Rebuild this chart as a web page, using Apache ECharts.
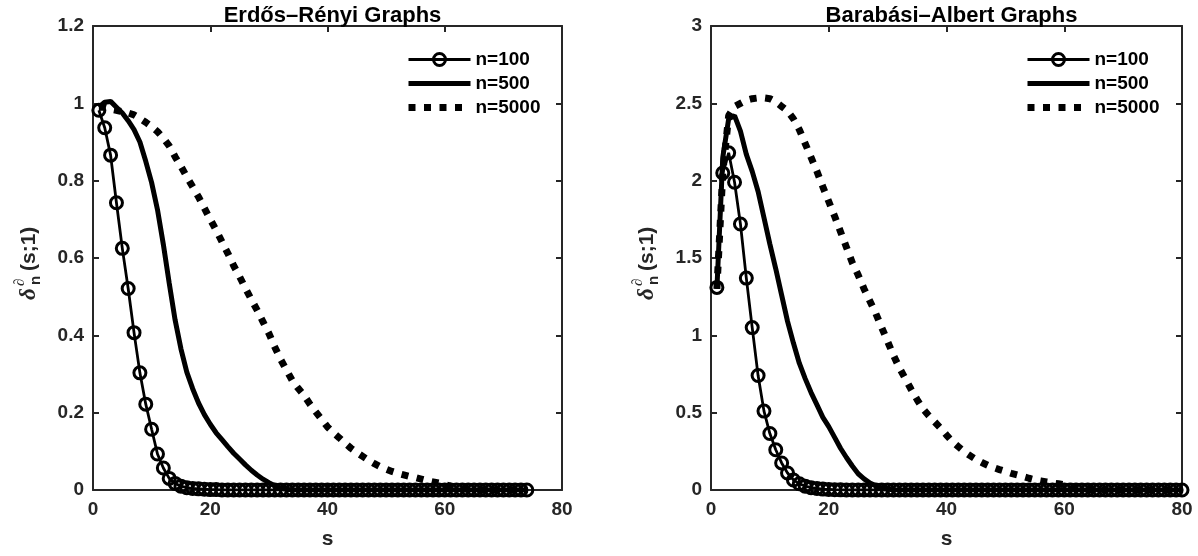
<!DOCTYPE html>
<html>
<head>
<meta charset="utf-8">
<title>delta_n(s;1)</title>
<script src="https://cdn.jsdelivr.net/npm/echarts@6/dist/echarts.min.js"></script>
<style>
    html, body { margin: 0; padding: 0; background: #fff; }
    #main { width: 1198px; height: 556px; }
</style>
</head>
<body>
<div id="main"></div>
<script>
// legend names and titles
var seriesNames = ['n=100', 'n=500', 'n=5000'];
var titles = ['Erdős–Rényi Graphs', 'Barabási–Albert Graphs'];

// tick labels
var sTicksER = [0, 20, 40, 60, 80];
var sTicksBA = [0, 20, 40, 60, 80];
var yTicksER = [0, 0.2, 0.4, 0.6, 0.8, 1, 1.2];
var yTicksBA = [0, 0.5, 1, 1.5, 2, 2.5, 3];

// Erdős–Rényi, s = 1..74
var erN100 = [0.982, 0.937, 0.866, 0.743, 0.625, 0.521, 0.407, 0.303, 0.222, 0.157,
    0.093, 0.057, 0.030, 0.017, 0.010, 0.006, 0.004, 0.003, 0.002, 0.001,
    0.001, 0, 0, 0, 0, 0, 0, 0, 0, 0,
    0, 0, 0, 0, 0, 0, 0, 0, 0, 0,
    0, 0, 0, 0, 0, 0, 0, 0, 0, 0,
    0, 0, 0, 0, 0, 0, 0, 0, 0, 0,
    0, 0, 0, 0, 0, 0, 0, 0, 0, 0,
    0, 0, 0, 0];
var erN500 = [0.99, 1.003, 1.005, 0.99, 0.975, 0.955, 0.932, 0.90, 0.85, 0.795,
    0.725, 0.635, 0.535, 0.44, 0.365, 0.305, 0.262, 0.225, 0.195, 0.17,
    0.148, 0.13, 0.112, 0.095, 0.08, 0.065, 0.051, 0.039, 0.028, 0.019,
    0.011, 0.005, 0.002, 0, 0, 0, 0, 0, 0, 0,
    0, 0, 0, 0, 0, 0, 0, 0, 0, 0,
    0, 0, 0, 0, 0, 0, 0, 0, 0, 0,
    0, 0, 0, 0, 0, 0, 0, 0, 0, 0,
    0, 0, 0, 0];
var erN5000 = [0.99, 0.99, 0.985, 0.982, 0.978, 0.975, 0.97, 0.961, 0.951, 0.94,
    0.927, 0.91, 0.89, 0.862, 0.837, 0.81, 0.784, 0.758, 0.729, 0.70,
    0.672, 0.642, 0.612, 0.58, 0.552, 0.522, 0.493, 0.465, 0.435, 0.405,
    0.37, 0.338, 0.31, 0.283, 0.263, 0.245, 0.222, 0.202, 0.183, 0.163,
    0.148, 0.135, 0.121, 0.108, 0.097, 0.087, 0.077, 0.068, 0.06, 0.054,
    0.048, 0.043, 0.039, 0.035, 0.032, 0.028, 0.024, 0.021, 0.018, 0.014,
    0.01, 0.007, 0.004, 0.002, 0.001, 0, 0, 0, 0, 0,
    0, 0, 0, 0];

// Barabási–Albert, s = 1..80
var baN100 = [1.31, 2.05, 2.18, 1.99, 1.72, 1.37, 1.05, 0.74, 0.51, 0.365,
    0.26, 0.175, 0.11, 0.065, 0.04, 0.025, 0.015, 0.01, 0.006, 0.004,
    0.002, 0.001, 0, 0, 0, 0, 0, 0, 0, 0,
    0, 0, 0, 0, 0, 0, 0, 0, 0, 0,
    0, 0, 0, 0, 0, 0, 0, 0, 0, 0,
    0, 0, 0, 0, 0, 0, 0, 0, 0, 0,
    0, 0, 0, 0, 0, 0, 0, 0, 0, 0,
    0, 0, 0, 0, 0, 0, 0, 0, 0, 0];
var baN500 = [1.3, 2.15, 2.40, 2.42, 2.32, 2.17, 2.06, 1.93, 1.76, 1.59,
    1.43, 1.26, 1.09, 0.95, 0.82, 0.72, 0.63, 0.55, 0.47, 0.41,
    0.34, 0.27, 0.21, 0.155, 0.105, 0.072, 0.045, 0.027, 0.013, 0.005,
    0.002, 0, 0, 0, 0, 0, 0, 0, 0, 0,
    0, 0, 0, 0, 0, 0, 0, 0, 0, 0,
    0, 0, 0, 0, 0, 0, 0, 0, 0, 0,
    0, 0, 0, 0, 0, 0, 0, 0, 0, 0,
    0, 0, 0, 0, 0, 0, 0, 0, 0, 0];
var baN5000 = [1.3, 2.05, 2.42, 2.48, 2.5, 2.52, 2.53, 2.535, 2.535, 2.53,
    2.51, 2.48, 2.45, 2.4, 2.33, 2.24, 2.15, 2.06, 1.96, 1.865,
    1.77, 1.67, 1.57, 1.47, 1.39, 1.30, 1.22, 1.14, 1.05, 0.96,
    0.87, 0.79, 0.72, 0.65, 0.585, 0.525, 0.48, 0.44, 0.40, 0.355,
    0.313, 0.28, 0.248, 0.222, 0.198, 0.178, 0.16, 0.145, 0.132, 0.12,
    0.108, 0.098, 0.087, 0.076, 0.066, 0.059, 0.052, 0.046, 0.04, 0.034,
    0.026, 0.018, 0.01, 0.005, 0.002, 0.001, 0, 0, 0, 0,
    0, 0, 0, 0, 0, 0, 0, 0, 0, 0];

var font = '"Liberation Sans", Arial, Helvetica, sans-serif';
var axisColor = '#262626';

// s runs from 1 upward, one point per step
function toPairs(vals) {
    return vals.map(function(v, i) {
        return [i + 1, v];
    });
}

function xAxes(grid, ticks) {
    var list = [];
    ['bottom', 'top'].forEach(function(pos) {
        list.push({
            type: 'value',
            gridIndex: grid,
            position: pos,
            min: ticks[0],
            max: ticks[ticks.length - 1],
            interval: ticks[1] - ticks[0],
            name: pos === 'bottom' ? 's' : '',
            nameLocation: 'middle',
            nameGap: 39,
            nameTextStyle: { color: axisColor, fontFamily: font, fontWeight: 'bold', fontSize: 21 },
            axisLine: { show: true, onZero: false, lineStyle: { color: axisColor, width: 2 } },
            axisTick: { show: true, inside: true, length: 6, lineStyle: { color: axisColor, width: 2 } },
            axisLabel: {
                show: pos === 'bottom',
                margin: 10,
                color: axisColor,
                fontFamily: font,
                fontWeight: 'bold',
                fontSize: 19
            },
            splitLine: { show: false }
        });
    });
    return list;
}

function yAxes(grid, ticks) {
    var list = [];
    ['left', 'right'].forEach(function(pos) {
        list.push({
            type: 'value',
            gridIndex: grid,
            position: pos,
            min: ticks[0],
            max: ticks[ticks.length - 1],
            interval: ticks[1] - ticks[0],
            axisLine: { show: true, onZero: false, lineStyle: { color: axisColor, width: 2 } },
            axisTick: { show: true, inside: true, length: 6, lineStyle: { color: axisColor, width: 2 } },
            axisLabel: {
                show: pos === 'left',
                margin: 9,
                color: axisColor,
                fontFamily: font,
                fontWeight: 'bold',
                fontSize: 19
            },
            splitLine: { show: false }
        });
    });
    return list;
}

function makeSeries(grid, n100, n500, n5000) {
    var ax = grid * 2;
    return [{
        name: seriesNames[0],
        type: 'line',
        xAxisIndex: ax,
        yAxisIndex: ax,
        data: toPairs(n100),
        symbol: 'circle',
        symbolSize: 12,
        itemStyle: { color: 'rgba(0,0,0,0)', borderColor: '#000', borderWidth: 3 },
        lineStyle: { color: '#000', width: 2.8 }
    }, {
        name: seriesNames[1],
        type: 'line',
        xAxisIndex: ax,
        yAxisIndex: ax,
        data: toPairs(n500),
        symbol: 'none',
        itemStyle: { color: '#000' },
        lineStyle: { color: '#000', width: 5 }
    }, {
        name: seriesNames[2],
        type: 'line',
        xAxisIndex: ax,
        yAxisIndex: ax,
        data: toPairs(n5000),
        symbol: 'none',
        itemStyle: { color: '#000' },
        lineStyle: { color: '#000', width: 7, type: [7, 8.5], cap: 'butt' }
    }];
}

function makeLegend(left) {
    return {
        orient: 'vertical',
        left: left,
        top: 50,
        padding: 0,
        itemWidth: 62,
        itemHeight: 15,
        itemGap: 5,
        selectedMode: false,
        textStyle: { color: '#000', fontFamily: font, fontWeight: 'bold', fontSize: 19 },
        lineStyle: { width: 'inherit' },
        itemStyle: { borderWidth: 'inherit' },
        data: [
            { name: seriesNames[0] },
            { name: seriesNames[1], itemStyle: { opacity: 0 } },
            { name: seriesNames[2], itemStyle: { opacity: 0 } }
        ]
    };
}

// rotated y label, delta with stacked super/subscript
function yLabel(x) {
    var sans = '"Liberation Sans", Arial, sans-serif';
    var serif = '"Liberation Serif", "DejaVu Serif", serif';
    return {
        type: 'group',
        x: x,
        y: 260,
        rotation: Math.PI / 2,
        children: [
            { type: 'text', x: -40, y: 0, style: { text: 'δ', font: 'italic bold 23px ' + serif, fill: axisColor, verticalAlign: 'middle' } },
            { type: 'text', x: -26, y: -9, style: { text: '∂', font: 'italic bold 15px ' + serif, fill: axisColor, verticalAlign: 'middle' } },
            { type: 'text', x: -25, y: 7, style: { text: 'n', font: 'bold 15px ' + sans, fill: axisColor, verticalAlign: 'middle' } },
            { type: 'text', x: -11, y: 0, style: { text: '(s;1)', font: 'bold 21px ' + sans, fill: axisColor, verticalAlign: 'middle' } }
        ]
    };
}

var myChart = echarts.init(document.getElementById('main'));

var option = {
    animation: false,
    backgroundColor: '#fff',
    title: [{
        text: titles[0],
        left: 327.5,
        top: 0,
        textAlign: 'center',
        textStyle: { color: '#000', fontFamily: font, fontWeight: 'bold', fontSize: 22 }
    }, {
        text: titles[1],
        left: 946.5,
        top: 0,
        textAlign: 'center',
        textStyle: { color: '#000', fontFamily: font, fontWeight: 'bold', fontSize: 22 }
    }],
    legend: [makeLegend(405), makeLegend(1024)],
    grid: [
        { left: 93, top: 26, width: 469, height: 464 },
        { left: 711, top: 26, width: 471, height: 464 }
    ],
    xAxis: xAxes(0, sTicksER).concat(xAxes(1, sTicksBA)),
    yAxis: yAxes(0, yTicksER).concat(yAxes(1, yTicksBA)),
    graphic: { elements: [yLabel(29), yLabel(647)] },
    series: makeSeries(0, erN100, erN500, erN5000).concat(makeSeries(1, baN100, baN500, baN5000))
};

myChart.setOption(option);
</script>
</body>
</html>
